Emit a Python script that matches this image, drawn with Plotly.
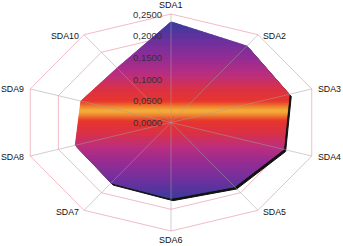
import numpy as np
import plotly.graph_objects as go
from plotly.colors import sample_colorscale

categories = ["SDA1", "SDA2", "SDA3", "SDA4", "SDA5", "SDA6", "SDA7", "SDA8", "SDA9", "SDA10"]
values = [0.232, 0.218, 0.210, 0.200, 0.183, 0.175, 0.172, 0.170, 0.160, 0.155]
tick_values = [0.0, 0.05, 0.10, 0.15, 0.20, 0.25]
tick_labels = ["0,0000", "0,0500", "0,1000", "0,1500", "0,2000", "0,2500"]
r_max = 0.25

# pixel geometry of the stretched radar (horizontal / vertical radius)
RX, RY = 148.0, 108.5
CX, CY = 171.0, 122.5
W, H = 343, 246

n = len(categories)
theta = np.arange(n) * 2 * np.pi / n


def to_xy(r, th):
    f = np.asarray(r) / r_max
    return f * np.sin(th), f * np.cos(th)


fig = go.Figure()

# grid rings (pink)
for tv in tick_values[1:]:
    x, y = to_xy(np.full(n + 1, tv), np.append(theta, theta[0]))
    fig.add_trace(go.Scatter(x=x, y=y, mode="lines", line=dict(color="#f2bcc6", width=1),
                             hoverinfo="skip", showlegend=False))

# data polygon
px, py = to_xy(np.array(values), theta)

# shadow (offset 2px right / 2px down)
sx = np.append(px, px[0]) + 2.0 / RX
sy = np.append(py, py[0]) - 2.2 / RY
fig.add_trace(go.Scatter(x=sx, y=sy, mode="lines", fill="toself", fillcolor="#111111",
                         line=dict(color="#111111", width=1), hoverinfo="skip", showlegend=False))

# gradient fill via horizontal strips clipped to the polygon
grad = [
    [0.00, "#f6b43c"],
    [0.05, "#ef8230"],
    [0.11, "#e8362e"],
    [0.24, "#dc3244"],
    [0.40, "#bd2f7c"],
    [0.60, "#932d96"],
    [0.80, "#6b329e"],
    [1.00, "#3b3c9c"],
]


def clip(poly, y0, y1):
    def clip_half(pts, keep, inter):
        out = []
        m = len(pts)
        for i in range(m):
            a, b = pts[i], pts[(i + 1) % m]
            ka, kb = keep(a), keep(b)
            if ka:
                out.append(a)
            if ka != kb:
                out.append(inter(a, b))
        return out

    def ix(yc):
        def f(a, b):
            t = (yc - a[1]) / (b[1] - a[1])
            return (a[0] + t * (b[0] - a[0]), yc)
        return f

    pts = clip_half(poly, lambda p: p[1] >= y0, ix(y0))
    if not pts:
        return pts
    pts = clip_half(pts, lambda p: p[1] <= y1, ix(y1))
    return pts


poly = list(zip(px, py))
ymin, ymax = py.min(), py.max()
ymid = (ymin + ymax) / 2
half = (ymax - ymin) / 2
nstrips = 110
edges = np.linspace(ymin, ymax, nstrips + 1)
eps = (edges[1] - edges[0]) * 0.35
for i in range(nstrips):
    y0, y1 = edges[i] - eps, edges[i + 1] + eps
    pts = clip(poly, y0, y1)
    if len(pts) < 3:
        continue
    yc = (edges[i] + edges[i + 1]) / 2
    t = min(1.0, abs(yc - ymid) / half)
    col = sample_colorscale(grad, [t])[0]
    xs = [p[0] for p in pts] + [pts[0][0]]
    ys = [p[1] for p in pts] + [pts[0][1]]
    fig.add_trace(go.Scatter(x=xs, y=ys, mode="lines", fill="toself", fillcolor=col,
                             line=dict(color=col, width=0.6), hoverinfo="skip", showlegend=False))

# spokes (gray)
for th in theta:
    x, y = to_xy(np.array([0, r_max]), np.array([th, th]))
    fig.add_trace(go.Scatter(x=x, y=y, mode="lines", line=dict(color="rgba(160,160,160,0.5)", width=1),
                             hoverinfo="skip", showlegend=False))

# radial tick labels
for tv, tl in zip(tick_values, tick_labels):
    fig.add_annotation(x=0, y=tv / r_max, text=tl, showarrow=False, xanchor="right", yanchor="middle",
                       xshift=-7, font=dict(family="Liberation Sans, Arial", size=9.5, color="#333333"))

# category labels
for cat, th in zip(categories, theta):
    x, y = to_xy(r_max, th)
    s, c = np.sin(th), np.cos(th)
    if abs(s) < 0.1:
        fig.add_annotation(x=x, y=y, text=cat, showarrow=False, xanchor="center",
                           yanchor="middle", yshift=9 if c > 0 else -8.5,
                           font=dict(family="Liberation Sans, Arial", size=9, color="#111111"))
    else:
        gap = 4.5 if abs(s) > 0.9 else 3.5
        fig.add_annotation(x=x, y=y, text=cat, showarrow=False,
                           xanchor="left" if s > 0 else "right", yanchor="middle",
                           xshift=gap if s > 0 else -gap, yshift=-1.5 if abs(s) < 0.9 else -0.5,
                           font=dict(family="Liberation Sans, Arial", size=8.8, color="#111111"))

fig.update_layout(
    width=W, height=H,
    margin=dict(l=0, r=0, t=0, b=0),
    paper_bgcolor="white", plot_bgcolor="white",
    showlegend=False,
    xaxis=dict(range=[-CX / RX, (W - CX) / RX], visible=False, fixedrange=True),
    yaxis=dict(range=[-(H - CY) / RY, CY / RY], visible=False, fixedrange=True),
)

fig.write_html("out.html")
